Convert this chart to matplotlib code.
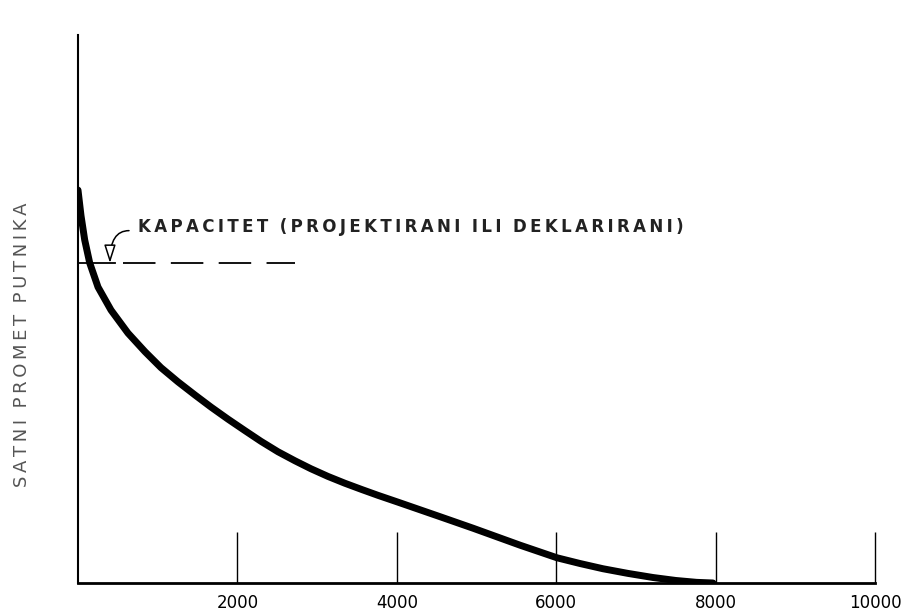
import matplotlib
matplotlib.use('Agg')
import matplotlib.pyplot as plt

# curve (x = hours, y = relative units, 0..100 axis height)
sati = [0, 38, 84, 147, 251, 414, 627, 841, 1041, 1255, 1468, 1669, 1882,
        2095, 2296, 2509, 2722, 2922, 3136, 3349, 3562, 3763, 4015, 4542,
        4956, 5546, 6010, 6300, 6587, 6900, 7215, 7500, 7760, 7967]
promet = [71.7, 67.0, 62.6, 58.4, 54.0, 49.8, 45.6, 42.2, 39.3, 36.7, 34.3,
          32.1, 29.9, 27.8, 25.85, 23.95, 22.3, 20.85, 19.45, 18.2, 17.05, 16.0,
          14.75, 12.1, 10.0, 6.9, 4.6, 3.55, 2.6, 1.75, 1.0, 0.46, 0.12, 0.0]

kapacitet = 58.4
kap_solid = [0, 464]
kap_dash = [565, 2723]

xticks = [2000, 4000, 6000, 8000, 10000]
xlabels = ['2000', '4000', '6000', '8000', '10000']

label_kap = 'KAPACITET (PROJEKTIRANI ILI DEKLARIRANI)'
label_y = 'SATNI PROMET PUTNIKA'


def spaced(s):
    # wide lettering like the original drawing
    out = '\u2009'.join(s)
    return out.replace('\u2009 \u2009', '  ')


fig = plt.figure(figsize=(9.06, 6.14), dpi=100)
ax = fig.add_axes([0.0861, 0.0505, 0.8797, 0.8925])
ax.set_xlim(0, 10000)
ax.set_ylim(0, 100)

ax.plot(sati, promet, color='black', lw=5, solid_capstyle='round',
        solid_joinstyle='round')

# capacity line
ax.plot(kap_solid, [kapacitet, kapacitet], color='black', lw=1.3)
ax.plot(kap_dash, [kapacitet, kapacitet], color='black', lw=1.3,
        linestyle=(0, (18, 8.5)), dash_capstyle='butt')

ax.annotate('', xy=(401, kapacitet), xytext=(640, 64.3),
            arrowprops=dict(arrowstyle='-|>,head_length=1.1,head_width=0.35',
                            connectionstyle='angle3,angleA=0,angleB=90',
                            fc='white', ec='black', lw=1.1,
                            shrinkA=0, shrinkB=0))
ax.text(752, 64.9, spaced(label_kap), fontsize=12, fontweight='bold',
        color='#222222', va='center', ha='left')

ax.spines['top'].set_visible(False)
ax.spines['right'].set_visible(False)
ax.spines['left'].set_linewidth(1.5)
ax.spines['bottom'].set_linewidth(2)

ax.set_yticks([])
ax.set_xticks(xticks)
ax.set_xticklabels(xlabels, family=['Liberation Sans Narrow', 'DejaVu Sans'],
                   fontsize=12)
ax.tick_params(axis='x', direction='in', length=37, width=1, pad=8)

fig.text(0.024, 0.438, spaced(label_y), rotation=90, ha='center',
         va='center', fontsize=13, color='#555555')

fig.savefig('out.png', dpi=100)
